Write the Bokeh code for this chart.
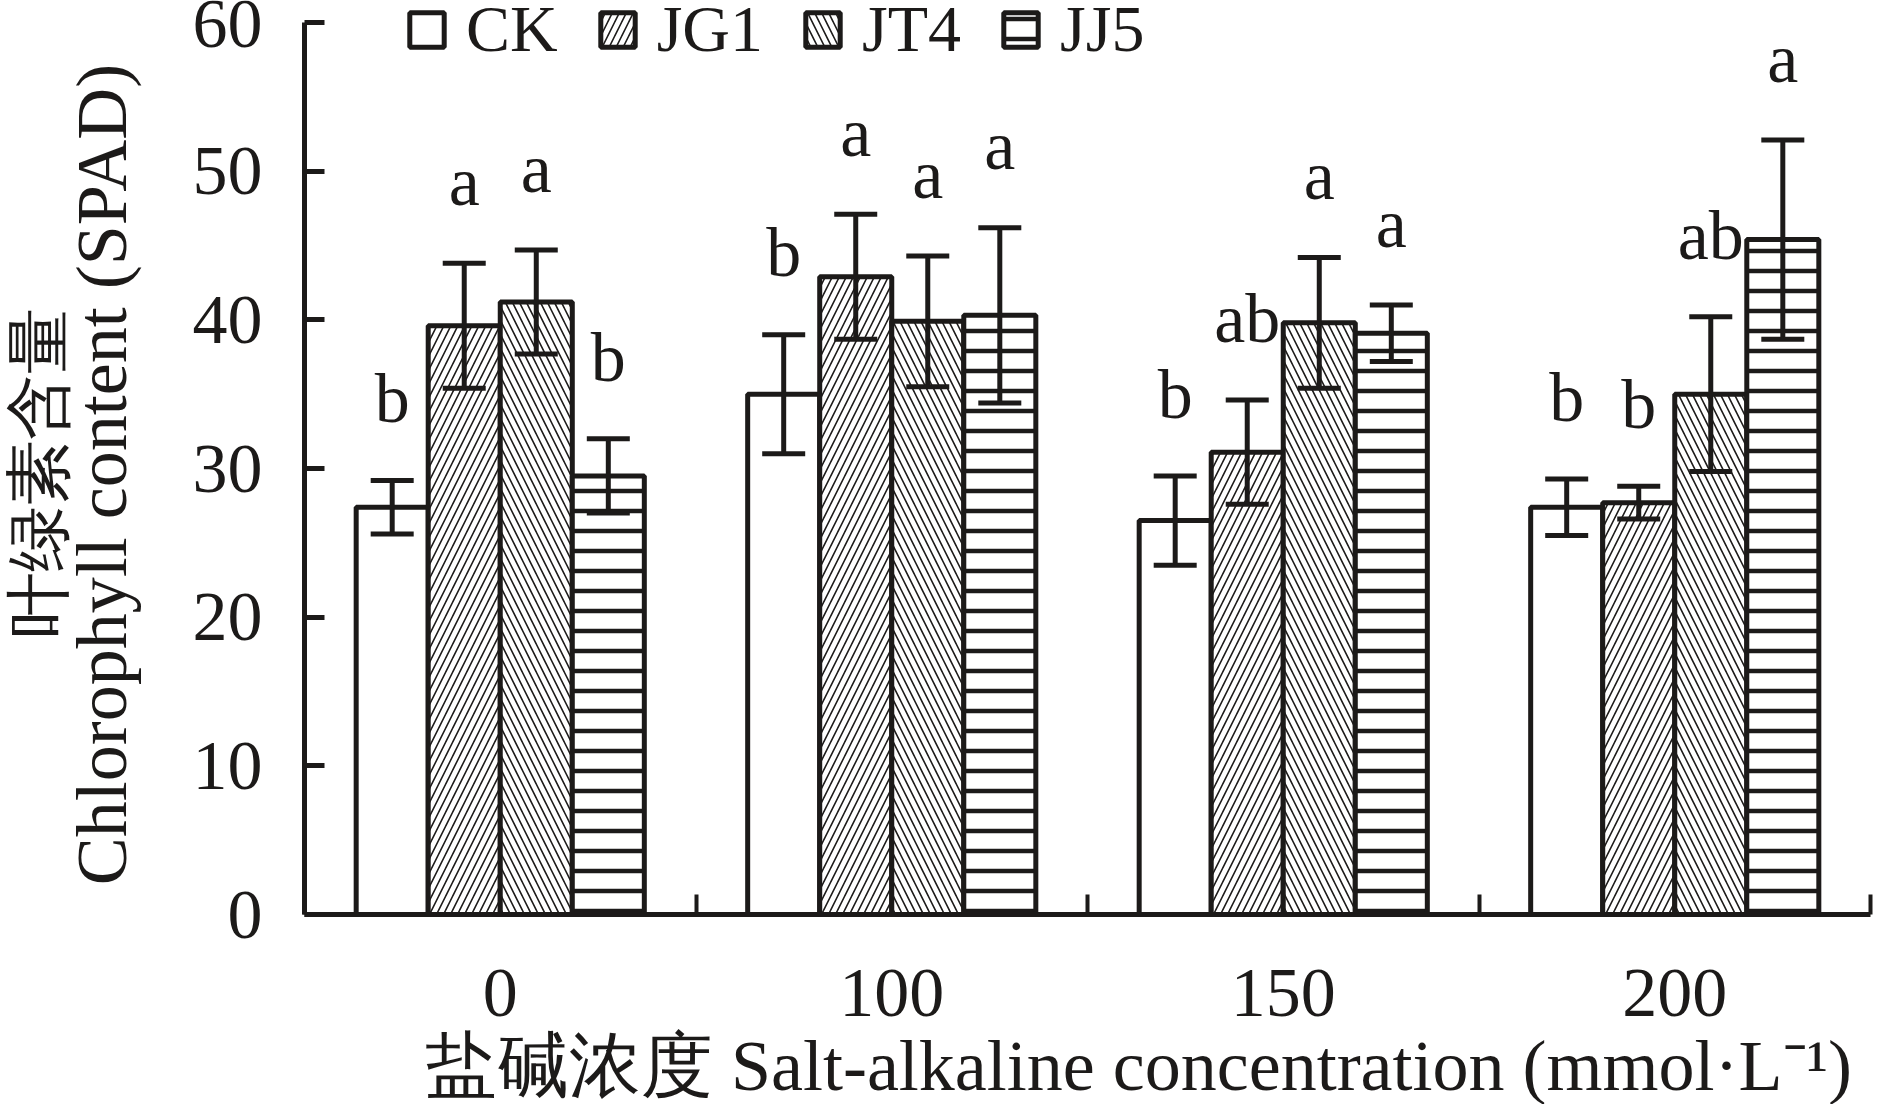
import numpy as np
from bokeh.plotting import figure
from bokeh.models import (ColumnDataSource, Whisker, TeeHead, FixedTicker,
                          Legend, LegendItem, Label)
from bokeh.embed import file_html
from bokeh.resources import INLINE
from bokeh.core.properties import value

# ---------------- data ----------------
groups = ["0", "100", "150", "200"]
series = ["CK", "JG1", "JT4", "JJ5"]

ck_mean = [27.4, 35.0, 26.5, 27.4]
ck_err = [1.8, 4.0, 3.0, 1.9]
ck_letter = ["b", "b", "b", "b"]

jg1_mean = [39.6, 42.9, 31.1, 27.7]
jg1_err = [4.2, 4.2, 3.5, 1.1]
jg1_letter = ["a", "a", "ab", "b"]

jt4_mean = [41.2, 39.9, 39.8, 35.0]
jt4_err = [3.5, 4.4, 4.4, 5.2]
jt4_letter = ["a", "a", "a", "ab"]

jj5_mean = [29.5, 40.3, 39.1, 45.4]
jj5_err = [2.5, 5.9, 1.9, 6.7]
jj5_letter = ["b", "a", "a", "a"]

y_ticks = [0, 10, 20, 30, 40, 50, 60]

x_title = "盐碱浓度 Salt-alkaline concentration (mmol·L⁻¹)"
y_title_cn = "叶绿素含量"
y_title_en = "Chlorophyll content (SPAD)"

# ---------------- layout constants ----------------
W, H = 1880, 1104
AX_L, AX_R = 304.0, 1870.0      # pixel x of data x=0 and x=4
AX_B, AX_T = 914.0, 22.0        # pixel y of data y=0 and y=60
px_x = (AX_R - AX_L) / 4.0
px_y = (AX_B - AX_T) / 60.0
x_start = -AX_L / px_x
x_end = 4.0 + (W - AX_R) / px_x
y_end = 60.0 + AX_T / px_y
y_start = -(H - AX_B) / px_y
LETTER_GAP = 5.5                # data units between error-bar top and letter

BLACK = "#1c1a19"
FONT = "Liberation Serif"
bar_w = 0.184
means = [ck_mean, jg1_mean, jt4_mean, jj5_mean]
errs = [ck_err, jg1_err, jt4_err, jj5_err]
letters = [ck_letter, jg1_letter, jt4_letter, jj5_letter]
hatches = [dict(hatch_pattern=" "),
           dict(hatch_pattern="/", hatch_scale=14, hatch_weight=1.6),
           dict(hatch_pattern="\\", hatch_scale=14, hatch_weight=1.6),
           dict(hatch_pattern="-", hatch_scale=20, hatch_weight=4.5)]
offsets = [-1.5, -0.5, 0.5, 1.5]

p = figure(width=W, height=H, x_range=(x_start, x_end), y_range=(y_start, y_end),
           output_backend="svg", toolbar_location=None, min_border=0)
p.outline_line_color = None
p.grid.visible = False
p.background_fill_color = "white"
p.border_fill_color = "white"

renderers = []
for k, name in enumerate(series):
    xs = [i + 0.5 + offsets[k] * bar_w for i in range(len(groups))]
    m = means[k]
    e = errs[k]
    src = ColumnDataSource(dict(
        x=xs, top=m,
        upper=[a + b for a, b in zip(m, e)],
        lower=[a - b for a, b in zip(m, e)],
        ly=[a + b + LETTER_GAP for a, b in zip(m, e)],
        letter=letters[k]))
    r = p.vbar(x="x", top="top", bottom=0, width=bar_w, source=src,
               fill_color="white", line_color=BLACK, line_width=5,
               hatch_color=BLACK, **hatches[k])
    renderers.append(r)
    w = Whisker(base="x", upper="upper", lower="lower", source=src,
                line_color=BLACK, line_width=5, level="annotation",
                upper_head=TeeHead(size=43, line_width=5, line_color=BLACK),
                lower_head=TeeHead(size=43, line_width=5, line_color=BLACK))
    p.add_layout(w)
    p.text(x="x", y="ly", text="letter", source=src,
           text_font=value(FONT), text_font_size="70px",
           text_align="center", text_baseline="alphabetic",
           text_color=BLACK)

# ---------------- axes ----------------
xa = p.xaxis[0]
xa.fixed_location = 0
xa.bounds = (0, 4)
xa.ticker = FixedTicker(ticks=[i + 0.5 for i in range(len(groups))],
                        minor_ticks=list(range(len(groups) + 1)))
xa.major_label_overrides = {i + 0.5: g for i, g in enumerate(groups)}
xa.axis_line_width = 5
xa.axis_line_color = BLACK
xa.major_tick_in = 0
xa.major_tick_out = 0
xa.minor_tick_in = 20
xa.minor_tick_out = 0
xa.minor_tick_line_width = 4
xa.minor_tick_line_color = BLACK
xa.major_label_text_font = FONT
xa.major_label_text_font_size = "70px"
xa.major_label_text_color = BLACK
xa.major_label_standoff = 55

ya = p.yaxis[0]
ya.fixed_location = 0
ya.bounds = (0, 60)
ya.ticker = FixedTicker(ticks=y_ticks)
ya.axis_line_width = 5
ya.axis_line_color = BLACK
ya.major_tick_in = 20
ya.major_tick_out = 0
ya.major_tick_line_width = 5
ya.major_tick_line_color = BLACK
ya.minor_tick_line_color = None
ya.major_label_text_font = FONT
ya.major_label_text_font_size = "70px"
ya.major_label_text_color = BLACK
ya.major_label_standoff = 42

# ---------------- titles ----------------
p.add_layout(Label(x=(1138 - AX_L) / px_x, y=(AX_B - 1065) / px_y, text=x_title,
                   text_font=FONT, text_font_size="72px", text_align="center",
                   text_baseline="middle", text_color=BLACK))
p.add_layout(Label(x=(101 - AX_L) / px_x, y=(AX_B - 474) / px_y, text=y_title_en,
                   angle=np.pi / 2, text_font=FONT, text_font_size="72px",
                   text_align="center", text_baseline="middle", text_color=BLACK))
p.add_layout(Label(x=(38 - AX_L) / px_x, y=(AX_B - 472) / px_y, text=y_title_cn,
                   angle=np.pi / 2, text_font=FONT, text_font_size="66px",
                   text_align="center", text_baseline="middle", text_color=BLACK))

# ---------------- legend ----------------
legend = Legend(items=[LegendItem(label=s, renderers=[r]) for s, r in zip(series, renderers)],
                orientation="horizontal", location=(405, H - 67),
                glyph_width=43, glyph_height=43,
                label_text_font=FONT, label_text_font_size="66px",
                label_text_color=BLACK, label_standoff=18, spacing=38,
                padding=0, margin=0, border_line_color=None,
                background_fill_alpha=0)
p.add_layout(legend)

open("out.html", "w").write(file_html(p, INLINE))
